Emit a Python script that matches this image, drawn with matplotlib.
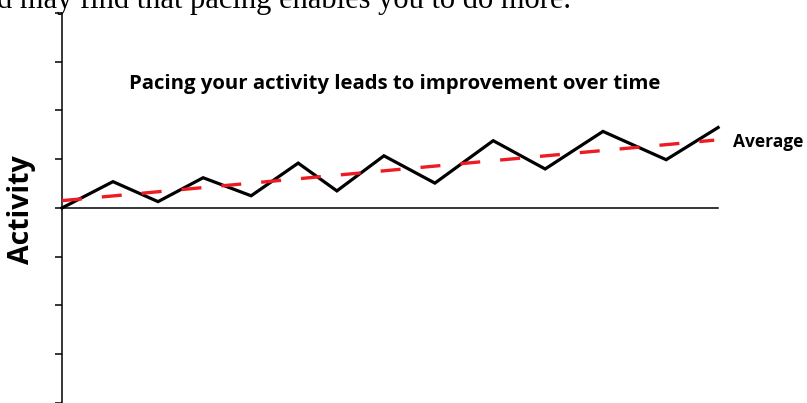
import matplotlib
matplotlib.use("Agg")
import matplotlib.pyplot as plt

# ---- data ----
time_points = [0.0, 1.04, 1.96, 2.88, 3.86, 4.82, 5.61, 6.57, 7.61, 8.80, 9.86, 11.04, 12.33, 13.39]
activity = [0.0, 0.54, 0.13, 0.62, 0.25, 0.92, 0.35, 1.07, 0.51, 1.38, 0.80, 1.57, 0.99, 1.65]
avg_time = [0.0, 13.31]
avg_values = [0.15, 1.39]
y_ticks = [-4, -3, -2, -1, 0, 1, 2, 3, 4]

title = "Pacing your activity leads to improvement over time"
ylabel = "Activity"
avg_label = "Average"
top_text = "d may find that pacing enables you to do more."

W, H = 807, 403
fig = plt.figure(figsize=(W / 100, H / 100), dpi=100)
ax = fig.add_axes([0, 0, 1, 1])
plt.rcParams['lines.scale_dashes'] = False

# pixel mapping: x px = 62 + 49*t ; y px = 209 - 49*v
ax.set_xlim(-62 / 49, (W - 62) / 49)
ax.set_ylim(-(H - 209) / 49, 209 / 49)

ax.plot(time_points, activity, color="black", lw=2.3, solid_joinstyle="miter", zorder=3)
ax.plot(avg_time, avg_values, color="#ED1C24", lw=2.4, dashes=(14.4, 14.4), zorder=4)

for s in ["top", "right"]:
    ax.spines[s].set_visible(False)
ax.spines["left"].set_position(("data", 0))
ax.spines["bottom"].set_position(("data", 0))
ax.spines["left"].set_bounds(-4.3, 4.0)
ax.spines["bottom"].set_bounds(0, 13.39)
for s in ["left", "bottom"]:
    ax.spines[s].set_linewidth(1.1)
ax.set_yticks(y_ticks)
ax.set_yticklabels([])
ax.tick_params(axis="y", direction="out", length=5, width=1.1, color="black")
ax.set_xticks([])
ax.patch.set_alpha(0)

def fx(px):
    return px / W
def fy(py):
    return 1 - py / H

fig.text(fx(395), fy(89), title, ha="center", va="baseline",
         fontsize=14.7, fontweight="bold", family="Open Sans")
fig.text(fx(733), fy(147), avg_label, ha="left", va="baseline",
         fontsize=12.5, fontweight="bold", family="Open Sans")
fig.text(fx(22), fy(210), ylabel, ha="center", va="center", rotation=90,
         fontsize=20.5, fontweight="bold", family="Open Sans")
fig.text(fx(-3), fy(8), top_text, ha="left", va="baseline",
         fontsize=22, family="Liberation Serif")

fig.savefig("out.png", dpi=100)
